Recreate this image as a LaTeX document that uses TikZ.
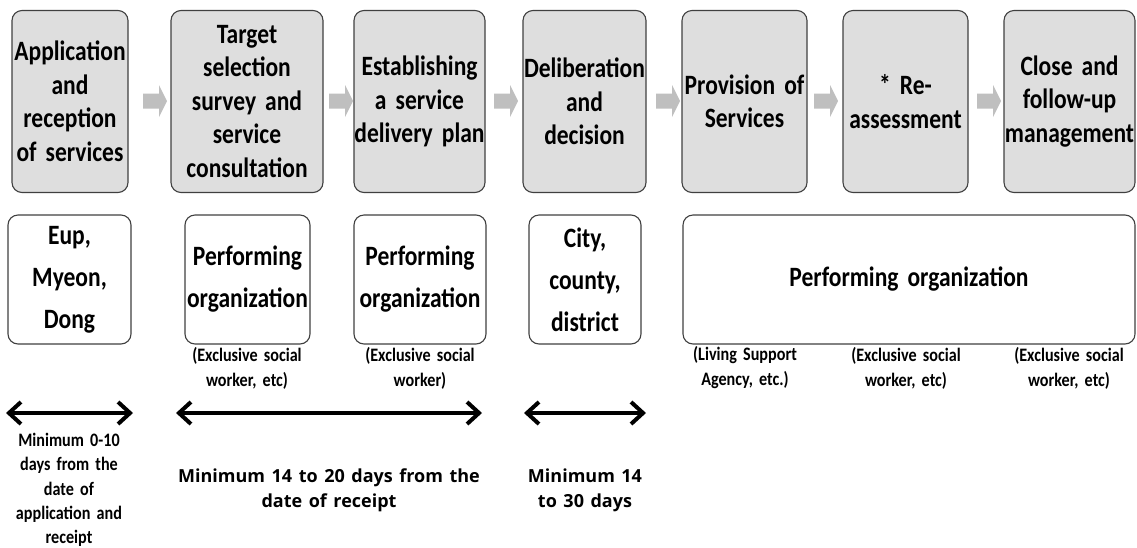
\documentclass[tikz,border=0pt]{standalone}
\usepackage{fontspec}
\newfontfamily\stagefont[FakeStretch=0.84,WordSpace=1.7]{Carlito}
\newfontfamily\notefont[FakeStretch=0.85,WordSpace=1.7]{Carlito}
\newfontfamily\widefont[WordSpace=1.4]{Open Sans}
\usetikzlibrary{arrows.meta}
\definecolor{stepfill}{RGB}{222,222,222}
\definecolor{framegray}{RGB}{64,64,64}
\definecolor{arrowfill}{RGB}{191,191,191}

\begin{document}
\begin{tikzpicture}[x=1pt,y=-1pt,
  stage/.style={draw=framegray, line width=1.1pt, fill=stepfill,
    rounded corners=10pt, minimum height=182pt, inner sep=0pt, align=center,
    font=\stagefont\bfseries\fontsize{28}{33.5}\selectfont},
  agent/.style={draw=framegray, line width=1.1pt, fill=white,
    rounded corners=10pt, minimum height=129pt, inner sep=0pt, align=center,
    font=\stagefont\bfseries\fontsize{28}{42}\selectfont},
  note/.style={align=center, inner sep=0pt,
    font=\notefont\bfseries\fontsize{19}{25}\selectfont},
  period/.style={align=center, inner sep=0pt,
    font=\widefont\bfseries\fontsize{18}{25}\selectfont},
  span/.style={line width=4pt,
    {Straight Barb[length=12pt,width=22pt]}-{Straight Barb[length=12pt,width=22pt]}},
  blockarrow/.pic={\fill[arrowfill] (0,-7.5) -- (16,-7.5) -- (16,-16) -- (24,0)
    -- (16,16) -- (16,7.5) -- (0,7.5) -- cycle;}
]
\useasboundingbox (0,0) rectangle (1137,547);

% process stages
\node[stage, minimum width=116pt] (s1) at (70,101.5) {Application\\and\\reception\\of services};
\node[stage, minimum width=152pt] (s2) at (247,101.5) {Target\\selection\\survey and\\service\\consultation};
\node[stage, minimum width=131pt] (s3) at (419.5,101.5) {Establishing\\a service\\delivery plan};
\node[stage, minimum width=123pt] (s4) at (584.5,101.5) {Deliberation\\and\\decision};
\node[stage, minimum width=125pt] (s5) at (744.5,101.5) {Provision of\\Services};
\node[stage, minimum width=125pt] (s6) at (905.5,101.5) {* Re-\\assessment};
\node[stage, minimum width=131pt] (s7) at (1069.5,101.5) {Close and\\follow-up\\management};

% flow arrows between stages
\foreach \ax in {143,329,494,656,814,977}
  \pic at (\ax,101) {blockarrow};

% responsible bodies
\node[agent, minimum width=123pt] (a1) at (69.5,279.5) {Eup,\\Myeon,\\Dong};
\node[agent, minimum width=125pt] (a2) at (247.5,279.5) {Performing\\organization};
\node[agent, minimum width=132pt] (a3) at (420,279.5) {Performing\\organization};
\node[agent, minimum width=112pt] (a4) at (585,279.5) {City,\\county,\\district};
\node[agent, minimum width=452pt] (a5) at (909,279.5) {Performing organization};

% staff notes
\node[note] (n2) at (247,368) {(Exclusive social\\worker, etc)};
\node[note] (n3) at (420,368) {(Exclusive social\\worker)};
\node[note] (n5a) at (745,368) {(Living Support\\Agency, etc.)};
\node[note] (n5b) at (906,368) {(Exclusive social\\worker, etc)};
\node[note] (n5c) at (1069,368) {(Exclusive social\\worker, etc)};

% time spans
\coordinate (t1a) at (6,413);   \coordinate (t1b) at (133,413);
\coordinate (t2a) at (176,413); \coordinate (t2b) at (482,413);
\coordinate (t3a) at (524,413); \coordinate (t3b) at (646,413);
\draw[span] (t1a) -- (t1b);
\draw[span] (t2a) -- (t2b);
\draw[span] (t3a) -- (t3b);

% durations
\node[note, font=\notefont\bfseries\fontsize{19}{24.3}\selectfont] (d1) at (69,490)
  {Minimum 0-10\\days from the\\date of\\application and\\receipt};
\node[period] (d2) at (329,490) {Minimum 14 to 20 days from the\\date of receipt};
\node[period] (d3) at (585,490) {Minimum 14\\to 30 days};
\end{tikzpicture}
\end{document}
